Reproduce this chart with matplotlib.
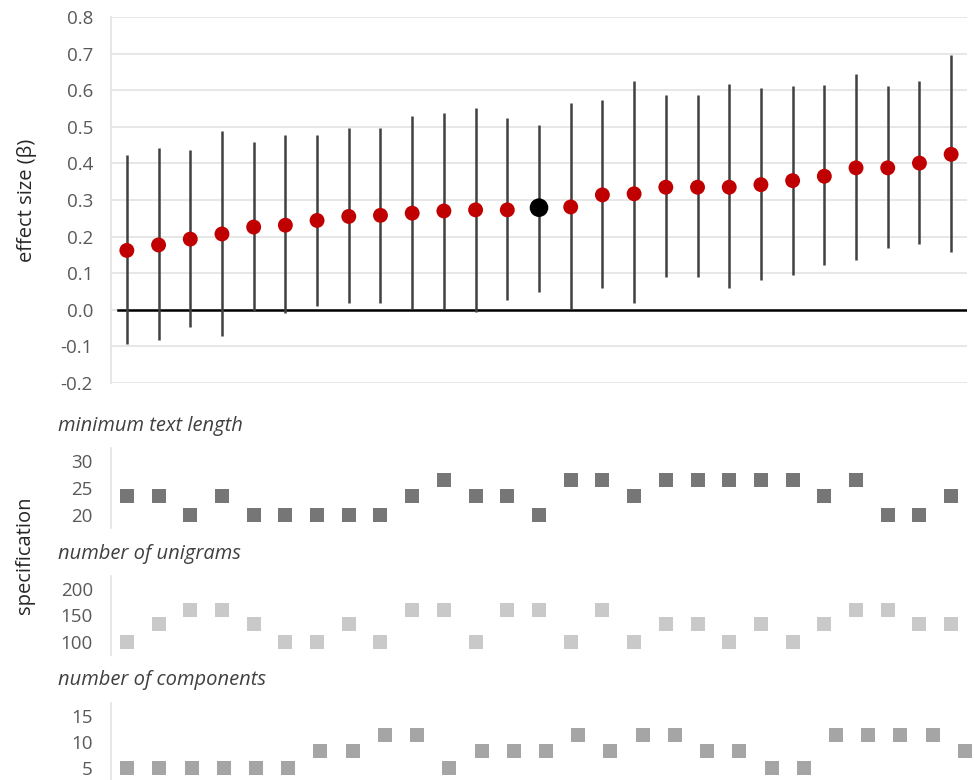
import matplotlib.pyplot as plt
import numpy as np

plt.rcParams['font.family'] = ['Open Sans', 'DejaVu Sans']

# effect sizes and confidence bounds, sorted
beta = [0.162, 0.177, 0.193, 0.207, 0.226, 0.231, 0.244, 0.255, 0.258, 0.264, 0.270, 0.273, 0.273, 0.279,
        0.281, 0.314, 0.317, 0.335, 0.335, 0.335, 0.342, 0.353, 0.365, 0.388, 0.388, 0.401, 0.425]
upper = [0.422, 0.443, 0.438, 0.488, 0.460, 0.479, 0.479, 0.497, 0.497, 0.530, 0.538, 0.553, 0.524, 0.506,
         0.565, 0.575, 0.626, 0.586, 0.586, 0.618, 0.607, 0.613, 0.616, 0.646, 0.613, 0.625, 0.696]
lower = [-0.094, -0.082, -0.047, -0.071, -0.004, -0.010, 0.011, 0.019, 0.019, 0.002, 0.002, -0.007, 0.027, 0.049,
         0.002, 0.059, 0.017, 0.089, 0.089, 0.059, 0.080, 0.095, 0.121, 0.136, 0.169, 0.180, 0.157]
highlight = 13  # index of the black point

# specification values
min_text_length = [23.5, 23.5, 20, 23.5, 20, 20, 20, 20, 20, 23.5, 26.5, 23.5, 23.5, 20,
                   26.5, 26.5, 23.5, 26.5, 26.5, 26.5, 26.5, 26.5, 23.5, 26.5, 20, 20, 23.5]
n_unigrams = [100, 133, 161, 161, 133, 100, 100, 133, 100, 161, 161, 100, 161, 161,
              100, 161, 100, 133, 133, 100, 133, 100, 133, 161, 161, 133, 133]
n_components = [5, 5, 5, 5, 5, 5, 8.3, 8.3, 11.4, 11.4, 5, 8.3, 8.3, 8.3,
                11.4, 8.3, 11.4, 11.4, 8.3, 8.3, 5, 5, 11.4, 11.4, 11.4, 11.4, 8.3]

x = np.arange(len(beta))
W, H = 975, 780
fig = plt.figure(figsize=(W / 100, H / 100), dpi=100)

def px_axes(left, top, right, bottom):
    return fig.add_axes([left / W, 1 - bottom / H, (right - left) / W, (bottom - top) / H])

label_col = '#595959'
grid_col = '#e3e3e3'
tick_fs = 13.5

# top panel
ax = px_axes(111, 17.3, 967, 382.7)
ax.set_xlim(-0.5, len(beta) - 0.5)
ax.set_ylim(-0.2, 0.8)
ax.set_yticks(np.arange(-0.2, 0.81, 0.1))
ax.set_yticklabels([f'{v:.1f}' for v in np.arange(-0.2, 0.81, 0.1)])
ax.grid(axis='y', color=grid_col, linewidth=1.2)
ax.set_axisbelow(True)
for s in ['top', 'right', 'bottom']:
    ax.spines[s].set_visible(False)
ax.spines['left'].set_color(grid_col)
ax.spines['left'].set_linewidth(1.2)
ax.tick_params(axis='y', length=0, pad=13, labelsize=tick_fs, labelcolor=label_col)
ax.set_xticks([])
ax.axhline(0, xmin=0.008, xmax=1, color='black', linewidth=1.8, zorder=2)
ax.vlines(x, lower, upper, color='#404040', linewidth=1.8, zorder=3)
cols = ['#c00000'] * len(beta)
sizes = [115] * len(beta)
cols[highlight] = 'black'
sizes[highlight] = 180
ax.scatter(x, beta, c=cols, s=sizes, zorder=4, linewidths=0)
ax.set_ylabel('effect size (β)', fontsize=14.5, color='#262626', labelpad=17)

# specification panels
panels = [
    ('minimum text length', min_text_length, (17.5, 32.5), [20, 25, 30], '#767676', 447.7, 528.3, 967, 426),
    ('number of unigrams', n_unigrams, (75, 225), [100, 150, 200], '#c9c9c9', 575.7, 655, 967, 554),
    ('number of components', n_components, (2.5, 17.5), [5, 10, 15], '#a5a5a5', 702.7, 781.6, 981, 680),
]
for title, vals, ylim, ticks, color, top, bottom, right, ty in panels:
    a = px_axes(111, top, right, bottom)
    a.set_xlim(-0.5, len(vals) - 0.5)
    a.set_ylim(*ylim)
    a.set_yticks(ticks)
    a.set_xticks([])
    for s in ['top', 'right', 'bottom']:
        a.spines[s].set_visible(False)
    a.spines['left'].set_color(grid_col)
    a.spines['left'].set_linewidth(1.2)
    a.tick_params(axis='y', length=0, pad=13, labelsize=tick_fs, labelcolor=label_col)
    a.scatter(x, vals, marker='s', s=100, color=color, linewidths=0, zorder=3)
    fig.text(58 / W, 1 - ty / H, title, style='italic', fontsize=14.5, color='#404040', va='center', ha='left')

fig.text(25 / W, 1 - 555 / H, 'specification', rotation=90, fontsize=14.5, color='#262626', va='center', ha='center')

fig.savefig('out.png', dpi=100)
